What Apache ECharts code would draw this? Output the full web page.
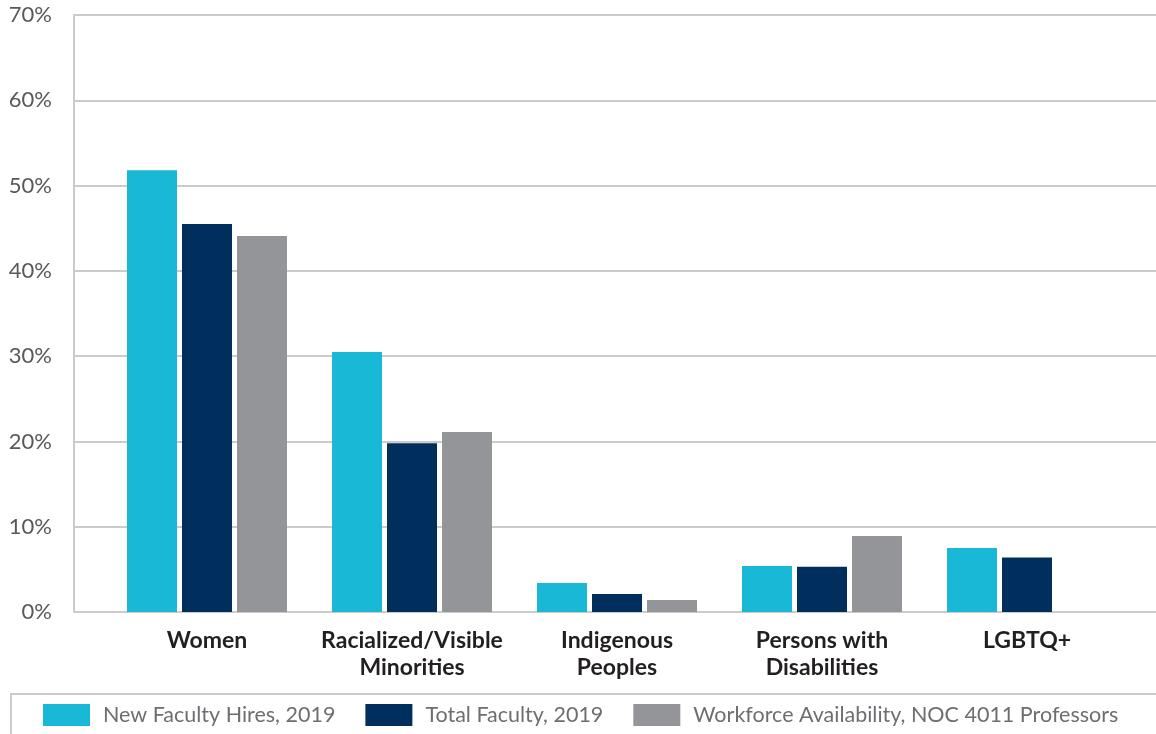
<!DOCTYPE html>
<html>
<head>
<meta charset="utf-8">
<script src="https://cdn.jsdelivr.net/npm/echarts@6/dist/echarts.min.js"></script>
<style>
html,body{margin:0;padding:0;background:#fff;}
#chart{width:1156px;height:734px;}
</style>
</head>
<body>
<div id="chart"></div>
<script>
const categories = ['Women', 'Racialized/Visible\nMinorities', 'Indigenous\nPeoples', 'Persons with\nDisabilities', 'LGBTQ+'];
const seriesNames = ['New Faculty Hires, 2019', 'Total Faculty, 2019', 'Workforce Availability, NOC 4011 Professors'];
const newHires = [51.8, 30.5, 3.4, 5.4, 7.5];
const totalFaculty = [45.5, 19.8, 2.1, 5.3, 6.4];
const workforce = [44.1, 21.1, 1.4, 8.9, null];
const yTicks = [0, 10, 20, 30, 40, 50, 60, 70];

const colors = ['#19b8d7', '#002e5d', '#939598'];
const font = 'Lato, "Open Sans", sans-serif';

const chart = echarts.init(document.getElementById('chart'));
const gridTop = 15, gridBottom = 122;
chart.setOption({
  animation: false,
  color: colors,
  textStyle: { fontFamily: font },
  grid: [
    { left: 74, right: 0, top: gridTop, bottom: gridBottom },
    { left: 104.5, width: 1025, top: gridTop, bottom: gridBottom }
  ],
  xAxis: [
    { gridIndex: 0, type: 'value', min: 0, max: 1, show: false },
    {
      gridIndex: 1, type: 'category', data: categories,
      axisLine: { show: false }, axisTick: { show: false },
      axisLabel: { fontSize: 23, fontWeight: 'bold', color: '#231f20', lineHeight: 27, margin: 15, interval: 0, fontFamily: font }
    }
  ],
  yAxis: [
    {
      gridIndex: 0, type: 'value', min: yTicks[0], max: yTicks[yTicks.length - 1], interval: 10,
      axisLine: { show: true, lineStyle: { color: '#cbcbcb', width: 2 } },
      axisTick: { show: false },
      splitLine: { show: true, lineStyle: { color: '#cbcbcb', width: 2 } },
      axisLabel: { formatter: '{value}%', fontSize: 22, color: '#58595b', margin: 22, fontFamily: font }
    },
    { gridIndex: 1, type: 'value', min: 0, max: 70, show: false, splitLine: { show: false } }
  ],
  legend: {
    left: 43, top: 704, padding: 0,
    itemWidth: 47, itemHeight: 22, itemGap: 30,
    icon: 'rect',
    textStyle: { fontSize: 21.5, color: '#6d6e71', padding: [0, 0, 0, 8], fontFamily: font },
    data: seriesNames
  },
  graphic: [
    { type: 'polyline', shape: { points: [[11, 734], [11, 694], [1156, 694]] }, style: { stroke: '#cbcbcb', lineWidth: 2, fill: null } }
  ],
  series: [
    { name: seriesNames[0], type: 'bar', xAxisIndex: 1, yAxisIndex: 1, data: newHires, barWidth: 50, barGap: '10%' },
    { name: seriesNames[1], type: 'bar', xAxisIndex: 1, yAxisIndex: 1, data: totalFaculty, barWidth: 50, barGap: '10%' },
    { name: seriesNames[2], type: 'bar', xAxisIndex: 1, yAxisIndex: 1, data: workforce, barWidth: 50, barGap: '10%' }
  ]
});
</script>
</body>
</html>
